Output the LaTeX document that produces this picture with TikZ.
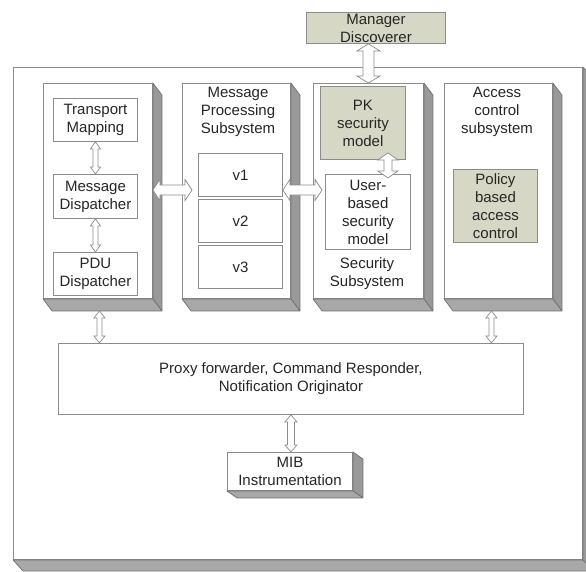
\documentclass[tikz,border=0pt]{standalone}
\usepackage{fontspec}
\setsansfont{Liberation Sans}
\usetikzlibrary{calc}

\definecolor{boxline}{HTML}{8C8C8C}
\definecolor{khaki}{HTML}{D7D7C5}
\definecolor{sidegray}{HTML}{999999}
\definecolor{basegray}{HTML}{A8A8A8}
\definecolor{sideline}{HTML}{6F6F6F}
\definecolor{inktext}{HTML}{262626}

% grey faces below and right of a node
\newcommand{\extrude}[3]{%
	\filldraw[side] (#1.north east) -- ++(#2,#3) -- ($(#1.south east)+(#2,#3)$) -- (#1.south east) -- cycle;
	\filldraw[side, fill=basegray] (#1.south west) -- (#1.south east) -- ($(#1.south east)+(#2,#3)$) -- ($(#1.south west)+(#2,#3)$) -- cycle;
}
% hollow two-headed block arrow
\newcommand{\dblarrow}[4]{%
	\coordinate (daA) at #1;
	\coordinate (daB) at #2;
	\coordinate (da1) at ($(daA)!\headlen!(daB)$);
	\coordinate (da2) at ($(daB)!\headlen!(daA)$);
	\filldraw[blockarrow] (daA) -- ($(da1)!#3!90:(daB)$) -- ($(da1)!#4!90:(daB)$)
		-- ($(da2)!#4!90:(daB)$) -- ($(da2)!#3!90:(daB)$) -- (daB)
		-- ($(da2)!#3!-90:(daB)$) -- ($(da2)!#4!-90:(daB)$)
		-- ($(da1)!#4!-90:(daB)$) -- ($(da1)!#3!-90:(daB)$) -- cycle;
}

\begin{document}
\begin{tikzpicture}[x=1pt, y=-1pt, font=\sffamily\fontsize{15}{18}\selectfont, text=inktext]
	\def\headlen{7pt}
	\def\colx{9}
	\def\coly{12}
	\tikzset{
		face/.style={draw=boxline, fill=white, line width=0.9pt, inner sep=0pt, anchor=north west, align=center},
		shaded/.style={face, fill=khaki},
		caption/.style={align=center, inner sep=0pt},
		blockarrow/.style={draw=boxline, fill=white, line width=0.7pt, line join=miter},
		side/.style={draw=sideline, fill=sidegray, line width=0.7pt, line join=round},
	}
	\useasboundingbox (0,0) rectangle (586,571);

	\node[face, minimum width=569, minimum height=492] (frame) at (13,67) {};
	\extrude{frame}{10}{11}

	\node[shaded, minimum width=139, minimum height=31] (mgr) at (306,12) {Manager\\Discoverer};

	\node[face, minimum width=109, minimum height=215] (col1) at (43,83) {};
	\node[face, minimum width=108, minimum height=215] (col2) at (182,83) {};
	\node[face, minimum width=110, minimum height=215] (col3) at (313,83) {};
	\node[face, minimum width=108, minimum height=215] (col4) at (444,83) {};
	\foreach \c in {col1, col2, col3, col4}
		\extrude{\c}{\colx}{\coly};

	\node[face, minimum width=84, minimum height=43] (trmap) at (53,98) {Transport\\Mapping};
	\node[face, minimum width=84, minimum height=44] (msgdisp) at (53,174) {Message\\Dispatcher};
	\node[face, minimum width=84, minimum height=43] (pdudisp) at (53,252) {PDU\\Dispatcher};

	\node[caption] (mpslabel) at (238,112) {Message\\Processing\\Subsystem};
	\node[face, minimum width=84, minimum height=43] (v1) at (198,153) {v1};
	\node[face, minimum width=84, minimum height=43] (v2) at (198,199) {v2};
	\node[face, minimum width=84, minimum height=43] (v3) at (198,245) {v3};

	\node[shaded, minimum width=85, minimum height=73] (pksm) at (320,86) {PK\\security\\model};
	\node[face, minimum width=85, minimum height=75] (ubsm) at (325,174) {User-\\based\\security\\model};
	\node[caption] (seclabel) at (367,274) {Security\\Subsystem};

	\node[caption] (acslabel) at (497,112) {Access\\control\\subsystem};
	\node[shaded, minimum width=84, minimum height=73] (pbac) at (453,169) {Policy\\based\\access\\control};

	\node[face, minimum width=465, minimum height=71] (proxy) at (58,343) {Proxy forwarder, Command Responder,\\Notification Originator};

	\node[face, minimum width=125, minimum height=38] (mib) at (227,452) {MIB\\Instrumentation};
	\extrude{mib}{10}{7}

	% arrows
	\coordinate (hlevel) at (0,190);
	\path (v1.west |- hlevel) ++(-6,0) coordinate (h1b);
	\path (ubsm.west |- hlevel) ++(-3,0) coordinate (h2b);
	\path (pksm.south east) ++(-18,-7) coordinate (pk1);
	\path (pk1 |- ubsm.north) ++(0,4) coordinate (pk2);
	\path (col1.south) ++(1.5,\coly) coordinate (c1b);
	\path (col4.south) ++(-7,\coly) coordinate (c4b);

	\dblarrow{(mgr.south -| col3.north)}{(col3.north)}{11.5pt}{5.5pt}
	\dblarrow{(trmap.south)}{(msgdisp.north)}{5pt}{2.5pt}
	\dblarrow{(msgdisp.south)}{(pdudisp.north)}{5pt}{2.5pt}
	\dblarrow{(col1.east |- hlevel)}{(h1b)}{10.5pt}{5pt}
	\dblarrow{(v1.east |- hlevel)}{(h2b)}{10.5pt}{5pt}
	\dblarrow{(pk1)}{(pk2)}{10pt}{4pt}
	\dblarrow{(c1b)}{(c1b |- proxy.north)}{5.5pt}{2.5pt}
	\dblarrow{(c4b)}{(c4b |- proxy.north)}{5.5pt}{2.5pt}
	\dblarrow{(proxy.south)}{(proxy.south |- mib.north)}{6pt}{3.5pt}
\end{tikzpicture}
\end{document}
